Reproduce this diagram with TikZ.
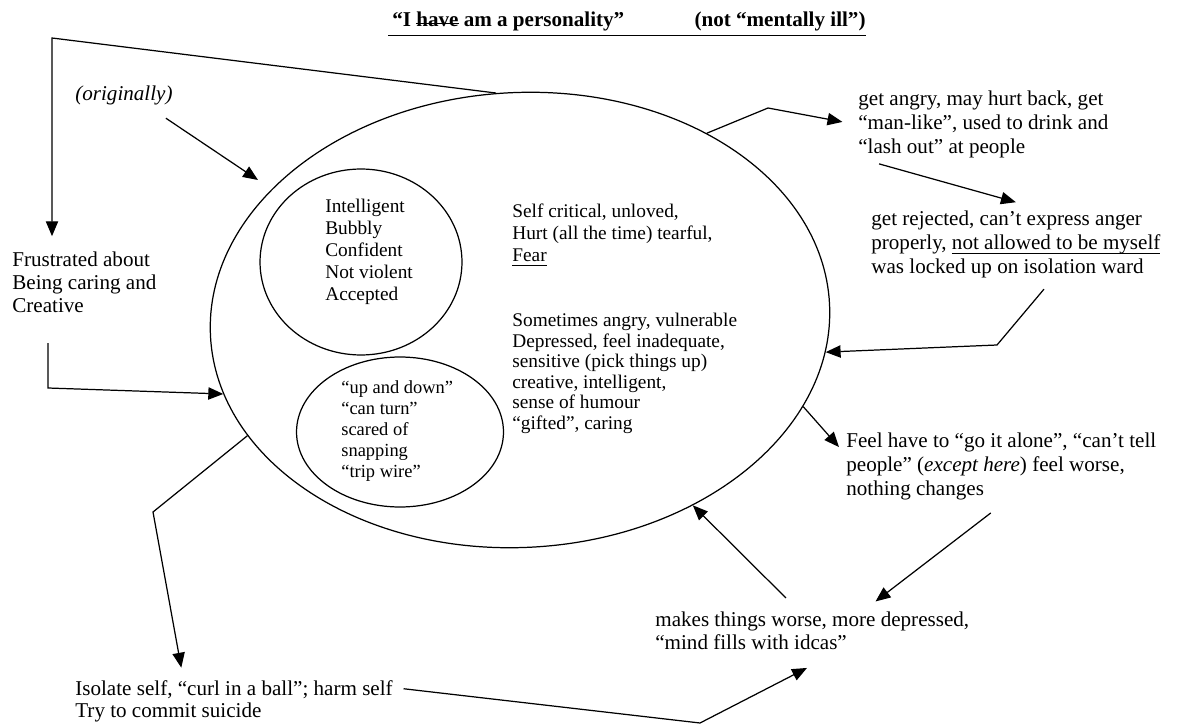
\documentclass[tikz,border=0pt]{standalone}
\usepackage{fontspec}
\setmainfont{Liberation Serif}
\usetikzlibrary{arrows.meta,shapes.geometric}

\newcommand{\strikeword}[1]{\setbox0\hbox{#1}\rlap{\rule[0.32ex]{\wd0}{0.7pt}}\box0\relax}
\newcommand{\ulword}[1]{\setbox0\hbox{#1}\rlap{\rule[-2.6pt]{\wd0}{0.6pt}}\box0\relax}

\tikzset{
  arr/.style={-{Triangle[length=8.5pt,width=7pt]}, line width=0.7pt},
  note/.style={anchor=north west, inner sep=0pt, align=left, font=\fontsize{12}{13.6}\selectfont},
  small/.style={note, font=\fontsize{11}{12.5}\selectfont},
  ring/.style={draw, ellipse, line width=0.7pt, inner sep=0pt},
}

\begin{document}
\begin{tikzpicture}[x=0.02cm, y=-0.02cm]
    \useasboundingbox (0,0) rectangle (1180,726);
    % 見出し
    \node[anchor=base west, inner sep=0pt, font=\bfseries\fontsize{12}{14}\selectfont] (title) at (392,27)
        {“I \strikeword{have} am a personality”\hspace{40pt}(not “mentally ill”)};
    \draw[line width=0.7pt] ([xshift=-2pt,yshift=-2pt]title.south west) -- ([yshift=-2pt]title.south east);
    % 楕円
    \node[ring, rotate=3, minimum width=12.4cm, minimum height=9.1cm] (self) at (520,320) {};
    \node[ring, minimum width=4.04cm, minimum height=3.72cm] (upper) at (361,262) {};
    \node[ring, minimum width=4.14cm, minimum height=3.0cm] (lower) at (400,432) {};
    % 円の中の文字
    \node[small] (traits) at (325,199) {Intelligent\\Bubbly\\Confident\\Not violent\\Accepted};
    \node[note, font=\fontsize{10.5}{12}\selectfont] (updown) at (341,380)
        {“up and down”\\“can turn”\\scared of\\snapping\\“trip wire”};
    \node[small] (selfcrit) at (512,204) {Self critical, unloved,\\Hurt (all the time) tearful,\\\ulword{Fear}};
    \node[note, font=\fontsize{11}{11.7}\selectfont] (sometimes) at (512,313)
        {Sometimes angry, vulnerable\\Depressed, feel inadequate,\\sensitive (pick things up)\\creative, intelligent,\\sense of humour\\“gifted”, caring};
    % 外側の文字
    \node[anchor=base west, inner sep=0pt, font=\itshape\fontsize{12}{14}\selectfont] (orig) at (75,101) {(originally)};
    \node[note, font=\fontsize{12}{13}\selectfont] (frustrated) at (12,252) {Frustrated about\\Being caring and\\Creative};
    \node[note] (angry) at (858,91) {get angry, may hurt back, get\\“man-like”, used to drink and\\“lash out” at people};
    \node[note] (rejected) at (871,211) {get rejected, can't express anger\\properly, \ulword{not allowed to be myself}\\was locked up on isolation ward};
    \node[note] (feel) at (846,433) {Feel have to “go it alone”, “can't tell\\people” (\textit{except here}) feel worse,\\nothing changes};
    \node[note, font=\fontsize{12}{13}\selectfont] (worse) at (655,612) {makes things worse, more depressed,\\“mind fills with idcas”};
    \node[note, font=\fontsize{12}{12.5}\selectfont] (isolate) at (75,680) {Isolate self, “curl in a ball”; harm self\\Try to commit suicide};
    % 矢印
    \coordinate (topleft) at (52,38);
    \coordinate (fbend) at (48,388);
    \coordinate (origtip) at (258,180);
    \coordinate (angrybend) at (768,108);
    \coordinate (rejbend) at (997,345);
    \coordinate (isobend) at (700,723);
    \coordinate (selfbend) at (153,512);
    \draw[arr, shorten >=9pt] (self.93) -- (topleft) -- (topleft |- frustrated.north);
    \draw[arr, shorten <=17pt] (frustrated.south -| fbend) -- (fbend) -- (self.191);
    \draw[arr] ([xshift=-4pt,yshift=-7pt]orig.south east) -- (origtip);
    \draw[arr, shorten >=9pt] (self.42) -- (angrybend) -- (angry.west);
    \draw[arr] ([xshift=12pt,yshift=-3pt]angry.south west) -- ([yshift=5pt]rejected.north);
    \draw[arr] ([xshift=16pt,yshift=-6pt]rejected.south) -- (rejbend) -- (self.-9);
    \draw[arr] (self.-20) -- ([xshift=-4pt,yshift=-8pt]feel.north west);
    \draw[arr] ([xshift=-6pt,yshift=-7pt]feel.south) -- ([xshift=36pt,yshift=6pt]worse.north);
    \draw[arr] ([xshift=-15pt,yshift=8pt]worse.north) -- (self.-50);
    \draw[arr] ([xshift=6pt,yshift=7pt]isolate.east) -- (isobend) -- ([xshift=-3pt,yshift=-10pt]worse.south);
    \draw[arr] (self.200) -- (selfbend) -- ([xshift=-30pt,yshift=7pt]isolate.north);
\end{tikzpicture}
\end{document}
